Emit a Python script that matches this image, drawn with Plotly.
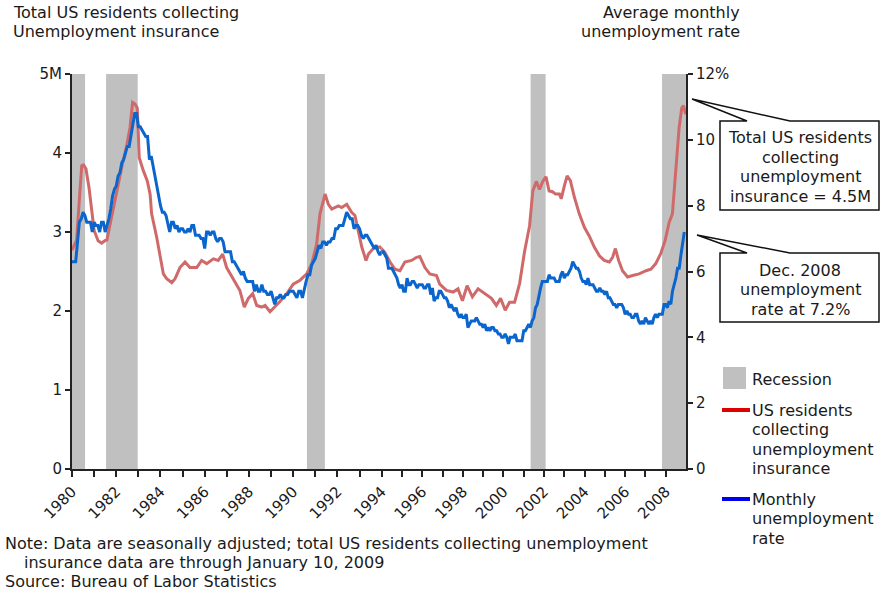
import plotly.graph_objects as go

# ---------------- data ----------------
# Monthly unemployment rate (%), starting January 1980
rate_start_year = 1980
unemployment_rate = [
    6.3, 6.3, 6.3, 6.9, 7.5, 7.6, 7.8, 7.7, 7.5, 7.5, 7.5, 7.2,   # 1980
    7.5, 7.4, 7.4, 7.2, 7.5, 7.5, 7.2, 7.4, 7.6, 7.9, 8.3, 8.5,   # 1981
    8.6, 8.9, 9.0, 9.3, 9.4, 9.6, 9.8, 9.8, 10.1, 10.4, 10.8, 10.8,  # 1982
    10.4, 10.4, 10.3, 10.2, 10.1, 10.1, 9.4, 9.5, 9.2, 8.8, 8.5, 8.3,  # 1983
    8.0, 7.8, 7.8, 7.7, 7.4, 7.2, 7.5, 7.5, 7.3, 7.4, 7.2, 7.3,   # 1984
    7.3, 7.2, 7.2, 7.3, 7.2, 7.4, 7.4, 7.1, 7.1, 7.1, 7.0, 7.0,   # 1985
    6.7, 7.2, 7.2, 7.1, 7.2, 7.2, 7.0, 6.9, 7.0, 7.0, 6.9, 6.6,   # 1986
    6.6, 6.6, 6.6, 6.3, 6.3, 6.2, 6.1, 6.0, 5.9, 6.0, 5.8, 5.7,   # 1987
    5.7, 5.7, 5.7, 5.4, 5.6, 5.4, 5.4, 5.6, 5.4, 5.4, 5.3, 5.3,   # 1988
    5.4, 5.2, 5.0, 5.2, 5.2, 5.3, 5.2, 5.2, 5.3, 5.3, 5.4, 5.4,   # 1989
    5.4, 5.3, 5.2, 5.4, 5.4, 5.2, 5.5, 5.7, 5.9, 5.9, 6.2, 6.3,   # 1990
    6.4, 6.6, 6.8, 6.7, 6.9, 6.9, 6.8, 6.9, 6.9, 7.0, 7.0, 7.3,   # 1991
    7.3, 7.4, 7.4, 7.4, 7.6, 7.8, 7.7, 7.6, 7.6, 7.3, 7.4, 7.4,   # 1992
    7.3, 7.1, 7.0, 7.1, 7.1, 7.0, 6.9, 6.8, 6.7, 6.8, 6.6, 6.5,   # 1993
    6.6, 6.6, 6.5, 6.4, 6.1, 6.1, 6.1, 6.0, 5.9, 5.8, 5.6, 5.5,   # 1994
    5.6, 5.4, 5.4, 5.8, 5.6, 5.6, 5.7, 5.7, 5.6, 5.5, 5.6, 5.6,   # 1995
    5.6, 5.5, 5.5, 5.6, 5.6, 5.3, 5.5, 5.1, 5.2, 5.2, 5.4, 5.4,   # 1996
    5.3, 5.2, 5.2, 5.1, 4.9, 5.0, 4.9, 4.8, 4.9, 4.7, 4.6, 4.7,   # 1997
    4.6, 4.6, 4.7, 4.3, 4.4, 4.5, 4.5, 4.5, 4.6, 4.5, 4.4, 4.4,   # 1998
    4.3, 4.4, 4.2, 4.3, 4.2, 4.3, 4.3, 4.2, 4.2, 4.1, 4.1, 4.0,   # 1999
    4.0, 4.1, 4.0, 3.8, 4.0, 4.0, 4.0, 4.1, 3.9, 3.9, 3.9, 3.9,   # 2000
    4.2, 4.2, 4.3, 4.4, 4.3, 4.5, 4.6, 4.9, 5.0, 5.3, 5.5, 5.7,   # 2001
    5.7, 5.7, 5.7, 5.9, 5.8, 5.8, 5.8, 5.7, 5.7, 5.7, 5.9, 6.0,   # 2002
    5.8, 5.9, 5.9, 6.0, 6.1, 6.3, 6.2, 6.1, 6.1, 6.0, 5.8, 5.7,   # 2003
    5.7, 5.6, 5.8, 5.6, 5.6, 5.6, 5.5, 5.4, 5.4, 5.5, 5.4, 5.4,   # 2004
    5.3, 5.4, 5.2, 5.2, 5.1, 5.0, 5.0, 4.9, 5.0, 5.0, 5.0, 4.9,   # 2005
    4.7, 4.8, 4.7, 4.7, 4.6, 4.6, 4.7, 4.7, 4.5, 4.4, 4.5, 4.4,   # 2006
    4.6, 4.5, 4.4, 4.5, 4.4, 4.6, 4.7, 4.6, 4.7, 4.7, 4.7, 5.0,   # 2007
    5.0, 4.9, 5.1, 5.0, 5.4, 5.6, 5.8, 6.1, 6.1, 6.5, 6.8, 7.2,   # 2008
]
rate_years = [rate_start_year + i / 12 for i in range(len(unemployment_rate))]

# Total US residents collecting unemployment insurance (millions)
claims_years = [
    1980.00, 1980.14, 1980.21, 1980.33, 1980.44, 1980.52, 1980.63, 1980.77, 1980.89,
    1981.00, 1981.18, 1981.34, 1981.49, 1981.58, 1981.79, 1982.02, 1982.25, 1982.47,
    1982.62, 1982.74, 1982.85, 1982.95, 1983.04, 1983.22, 1983.40, 1983.53, 1983.60,
    1983.83, 1983.98, 1984.13, 1984.28, 1984.51, 1984.66, 1984.88, 1985.11, 1985.33,
    1985.64, 1985.86, 1986.09, 1986.39, 1986.61, 1986.81, 1986.99, 1987.29, 1987.59,
    1987.79, 1987.97, 1988.17, 1988.35, 1988.58, 1988.73, 1988.95, 1989.18, 1989.40,
    1989.71, 1990.00, 1990.31, 1990.61, 1990.84, 1991.06, 1991.21, 1991.44, 1991.59,
    1991.74, 1992.04, 1992.19, 1992.42, 1992.64, 1992.79, 1992.94, 1993.10, 1993.29,
    1993.40, 1993.62, 1993.92,
    1994.16, 1994.41, 1994.65, 1994.90, 1995.14, 1995.47, 1995.72, 1995.88, 1996.13,
    1996.37, 1996.70, 1996.86, 1997.19, 1997.52, 1997.76, 1997.98, 1998.21, 1998.47,
    1998.75, 1999.08, 1999.41, 1999.65, 1999.86, 2000.09, 2000.30, 2000.55, 2000.80,
    2001.04, 2001.29, 2001.45, 2001.62, 2001.78, 2001.94, 2002.10, 2002.25, 2002.42,
    2002.57, 2002.76, 2002.85, 2003.01, 2003.14, 2003.30, 2003.50, 2003.74, 2003.99,
    2004.23, 2004.48, 2004.73, 2004.97, 2005.22, 2005.38, 2005.52, 2005.68, 2005.87,
    2006.12, 2006.37, 2006.69, 2007.03, 2007.27, 2007.51, 2007.76, 2007.97, 2008.17,
    2008.33, 2008.41, 2008.53, 2008.66, 2008.79, 2008.87, 2008.99,
]
claims_millions = [
    2.77, 2.87, 2.90, 3.40, 3.84, 3.85, 3.80, 3.56, 3.23,
    3.02, 2.89, 2.86, 2.89, 2.90, 3.19, 3.52, 3.82, 4.09,
    4.32, 4.64, 4.62, 4.57, 3.94, 3.78, 3.65, 3.48, 3.23,
    2.93, 2.72, 2.47, 2.41, 2.36, 2.41, 2.55, 2.62, 2.55,
    2.55, 2.64, 2.60, 2.66, 2.64, 2.72, 2.55, 2.41, 2.26,
    2.05, 2.16, 2.22, 2.07, 2.05, 2.07, 1.99, 2.05, 2.12,
    2.22, 2.34, 2.39, 2.47, 2.60, 2.85, 3.23, 3.48, 3.35,
    3.29, 3.33, 3.31, 3.35, 3.25, 3.21, 3.02, 2.81, 2.64,
    2.72, 2.79, 2.81,
    2.74, 2.62, 2.53, 2.51, 2.62, 2.64, 2.68, 2.69, 2.55,
    2.47, 2.45, 2.34, 2.26, 2.24, 2.28, 2.13, 2.32, 2.18,
    2.28, 2.22, 2.16, 2.07, 2.16, 2.01, 2.11, 2.11, 2.35,
    2.75, 3.08, 3.52, 3.64, 3.54, 3.64, 3.70, 3.52, 3.51,
    3.48, 3.48, 3.42, 3.59, 3.71, 3.65, 3.44, 3.23, 3.06,
    2.95, 2.81, 2.70, 2.64, 2.62, 2.68, 2.79, 2.64, 2.51,
    2.43, 2.45, 2.47, 2.51, 2.53, 2.60, 2.73, 2.89, 3.12,
    3.23, 3.52, 3.94, 4.32, 4.57, 4.60, 4.49,
]

# Recession periods (decimal years)
recession_start = [1980.00, 1981.54, 1990.62, 2001.34, 2007.82]
recession_end = [1980.59, 1982.97, 1991.43, 2002.08, 2009.00]

left_tickvals = [0, 1, 2, 3, 4, 5]
left_ticktext = ["0", "1", "2", "3", "4", "5M"]
right_tickvals = [0, 2, 4, 6, 8, 10, 12]
right_ticktext = ["0", "2", "4", "6", "8", "10", "12%"]
years_first = list(range(1980, 1995))
years_second = list(range(1995, 2009))
labels_first = [str(y) if y % 2 == 0 else "" for y in years_first]
labels_second = [str(y) if y % 2 == 0 else "" for y in years_second]

# ---------------- layout geometry ----------------
W, H = 881, 595
L, R, T, B = 72, 686, 74, 469
BREAK_YEAR = 1994
BREAK_PX = 381.7
END_YEAR = 2009.0
split = (BREAK_PX - L) / (R - L)


def px(x):
    return (x - L) / (R - L)


def py(y):
    return (B - y) / (B - T)


FONT = "DejaVu Sans"
TXT = "#1a1a1a"
RED = "#d06a6a"
BLUE = "#0a66cc"
AXC = "#222222"
FS = 16
LINE_H = 19.6

fig = go.Figure()

for xa in ("x", "x2"):
    fig.add_trace(go.Scatter(x=claims_years, y=claims_millions, mode="lines",
                             line=dict(color=RED, width=3), xaxis=xa, yaxis="y",
                             showlegend=False, hoverinfo="skip"))
for xa in ("x", "x2"):
    fig.add_trace(go.Scatter(x=rate_years, y=unemployment_rate, mode="lines",
                             line=dict(color=BLUE, width=3), xaxis=xa, yaxis="y2",
                             showlegend=False, hoverinfo="skip"))

shapes = []
for s, e in zip(recession_start, recession_end):
    if s < BREAK_YEAR:
        shapes.append(dict(type="rect", xref="x", yref="paper", x0=s, x1=min(e, BREAK_YEAR),
                           y0=0, y1=1, fillcolor="#c0c0c0", line=dict(width=0), layer="below"))
    else:
        shapes.append(dict(type="rect", xref="x2", yref="paper", x0=s, x1=min(e, END_YEAR),
                           y0=0, y1=1, fillcolor="#c0c0c0", line=dict(width=0), layer="below"))


def callout(box, tip, base):
    x0, y0, x1, y1 = box
    b0, b1 = base
    pts = [(x0, y0), (b0, y0), tip, (b1, y0), (x1, y0), (x1, y1), (x0, y1)]
    path = "M " + " L ".join(f"{px(a):.5f},{py(b):.5f}" for a, b in pts) + " Z"
    return dict(type="path", xref="paper", yref="paper", path=path,
                fillcolor="white", line=dict(color="#111111", width=1.5), layer="above")


shapes.append(callout((720, 121, 879, 210), (692, 99), (747, 790)))
shapes.append(callout((720, 253, 879, 322), (697, 235), (747, 790)))

# legend swatches
shapes.append(dict(type="rect", xref="paper", yref="paper", x0=px(723), x1=px(746),
                   y0=py(389), y1=py(367), fillcolor="#c0c0c0", line=dict(width=0)))
shapes.append(dict(type="line", xref="paper", yref="paper", x0=px(722), x1=px(750),
                   y0=py(410), y1=py(410), line=dict(color="#dd0000", width=4)))
shapes.append(dict(type="line", xref="paper", yref="paper", x0=px(722), x1=px(750),
                   y0=py(499), y1=py(499), line=dict(color="#0000ee", width=4)))

ann = []


def text(x, y_first, lines, xanchor="left", size=FS, spacing=LINE_H):
    for i, s in enumerate(lines):
        ann.append(dict(xref="paper", yref="paper", x=px(x), y=py(y_first + i * spacing),
                        text=s, showarrow=False, xanchor=xanchor, yanchor="middle",
                        borderpad=0, font=dict(family=FONT, size=size, color=TXT)))


text(12, 12, ["Total US residents collecting", "Unemployment insurance"])
text(741, 12, ["Average monthly", "unemployment rate"], xanchor="right")
text(800, 137.5, ["Total US residents", "collecting", "unemployment", "insurance = 4.5M"],
     xanchor="center")
text(800, 270, ["Dec. 2008", "unemployment", "rate at 7.2%"], xanchor="center")
text(751, 379, ["Recession"])
text(751, 410, ["US residents", "collecting", "unemployment", "insurance"])
text(751, 499, ["Monthly", "unemployment", "rate"])
text(4, 543, ["Note: Data are seasonally adjusted; total US residents collecting unemployment"])
text(23, 562, ["insurance data are through January 10, 2009"])
text(4, 581, ["Source: Bureau of Labor Statistics"])

xcommon = dict(showline=True, linecolor=AXC, linewidth=2, ticks="outside", ticklen=6,
               tickwidth=1.5, tickcolor=AXC, tickangle=-45, showgrid=False, zeroline=False,
               tickfont=dict(family=FONT, size=15, color=TXT), tickmode="array", anchor="y")

fig.update_layout(
    width=W, height=H,
    margin=dict(l=L, r=W - R, t=T, b=H - B),
    paper_bgcolor="white", plot_bgcolor="white",
    showlegend=False,
    xaxis=dict(domain=[0, split], range=[1980, BREAK_YEAR], tickvals=years_first,
               ticktext=labels_first, **xcommon),
    xaxis2=dict(domain=[split, 1], range=[BREAK_YEAR, END_YEAR], tickvals=years_second,
                ticktext=labels_second, **xcommon),
    yaxis=dict(range=[0, 5], tickmode="array", tickvals=left_tickvals, ticktext=left_ticktext,
               showline=True, linecolor=AXC, linewidth=2, ticks="outside", ticklen=5,
               tickwidth=1.5, tickcolor=AXC, showgrid=False, zeroline=False, anchor="x",
               tickfont=dict(family=FONT, size=15, color=TXT)),
    yaxis2=dict(range=[0, 12], tickmode="array", tickvals=right_tickvals,
                ticktext=right_ticktext, overlaying="y", side="right", anchor="x2",
                showline=True, linecolor=AXC, linewidth=2, ticks="outside", ticklen=5,
                tickwidth=1.5, tickcolor=AXC, showgrid=False, zeroline=False,
                tickfont=dict(family=FONT, size=15, color=TXT)),
    shapes=shapes,
    annotations=ann,
)

fig.write_html("out.html", config={"displayModeBar": False},
               post_script="document.body.style.margin='0';document.body.style.overflow='hidden';")
